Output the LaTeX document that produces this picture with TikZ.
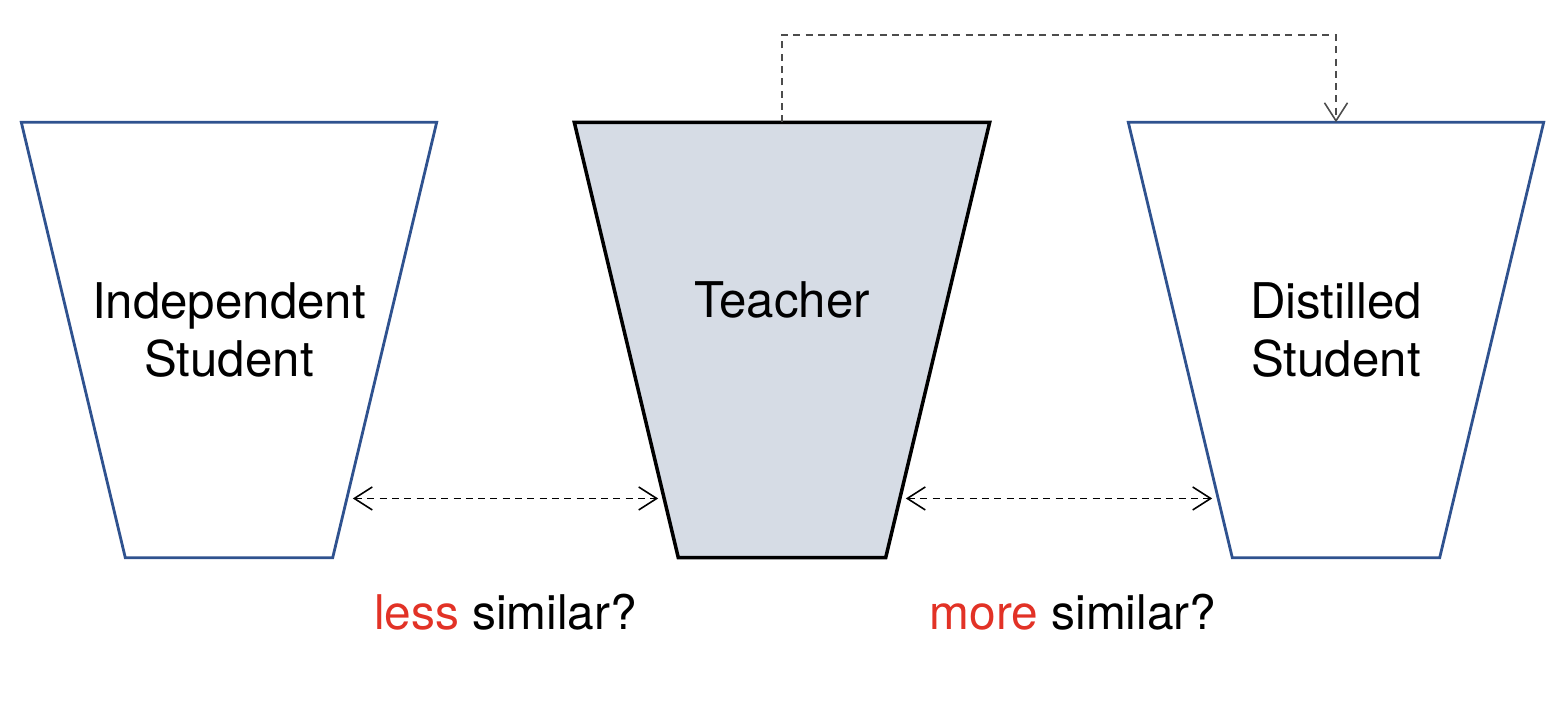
\documentclass[tikz,border=0pt]{standalone}
\usepackage{fontspec}
\setmainfont{TeX Gyre Heros}
\usetikzlibrary{arrows.meta, positioning, calc}

\definecolor{boxblue}{RGB}{47,82,143}
\definecolor{teachfill}{RGB}{214,220,229}
\definecolor{hlred}{RGB}{226,50,38}

% inset of the narrow bottom side
\newcommand{\netslant}{1.04}

\begin{document}
\begin{tikzpicture}[
    font=\fontsize{14}{16.5}\selectfont,
    net/.style={
        minimum width=4.14cm,
        minimum height=4.34cm,
        inner sep=0pt
    },
    netlabel/.style={
        align=center,
        inner sep=0pt
    },
    student/.style={
        draw=boxblue,
        line width=0.8pt,
        line join=miter
    },
    teacherline/.style={
        draw=black,
        line width=1pt,
        fill=teachfill,
        line join=miter
    },
    compare/.style={
        {Straight Barb[length=1.8mm, width=2.3mm]}-{Straight Barb[length=1.8mm, width=2.3mm]},
        dash pattern=on 2pt off 1.5pt,
        line width=0.45pt,
        shorten <=0.6mm,
        shorten >=0.6mm
    },
    feed/.style={
        -{Straight Barb[length=1.8mm, width=2.3mm]},
        draw=black!70,
        dash pattern=on 2pt off 1.5pt,
        line width=0.45pt
    },
    verdict/.style={
        align=center,
        font=\fontsize{13.6}{16}\selectfont
    }
]

\useasboundingbox (0,0) rectangle (15.66,7.14);

% Networks
\node[net] (indep) at (2.29,3.74) {};
\node[net] (teacher) at (7.82,3.74) {};
\node[net] (distil) at (13.36,3.74) {};

\draw[student] (indep.north west) -- (indep.north east)
    -- ($(indep.south east)+(-\netslant,0)$) -- ($(indep.south west)+(\netslant,0)$) -- cycle;
\draw[teacherline] (teacher.north west) -- (teacher.north east)
    -- ($(teacher.south east)+(-\netslant,0)$) -- ($(teacher.south west)+(\netslant,0)$) -- cycle;
\draw[student] (distil.north west) -- (distil.north east)
    -- ($(distil.south east)+(-\netslant,0)$) -- ($(distil.south west)+(\netslant,0)$) -- cycle;

\node[netlabel] (indep-lbl) at ([yshift=1mm]indep.center) {Independent\\Student};
\node[netlabel] (teacher-lbl) at ([yshift=4mm]teacher.center) {Teacher};
\node[netlabel] (distil-lbl) at ([yshift=1mm]distil.center) {Distilled\\Student};

% Points on the slanted sides
\coordinate (indep-r) at ($(indep.north east)!0.864!(indep.south east)+(-0.864*\netslant,0)$);
\coordinate (teacher-l) at ($(teacher.north west)!0.864!(teacher.south west)+(0.864*\netslant,0)$);
\coordinate (teacher-r) at ($(teacher.north east)!0.864!(teacher.south east)+(-0.864*\netslant,0)$);
\coordinate (distil-l) at ($(distil.north west)!0.864!(distil.south west)+(0.864*\netslant,0)$);

% Distillation
\draw[feed] (teacher.north) -- ++(0,0.87) -| (distil.north);

% Similarity comparisons
\draw[compare] (indep-r) -- (teacher-l)
    node[midway, yshift=-1.14cm, verdict] (less) {\textcolor{hlred}{less} similar?};
\draw[compare] (teacher-r) -- (distil-l)
    node[midway, yshift=-1.14cm, xshift=1.4mm, verdict] (more) {\textcolor{hlred}{more} similar?};

\end{tikzpicture}
\end{document}
